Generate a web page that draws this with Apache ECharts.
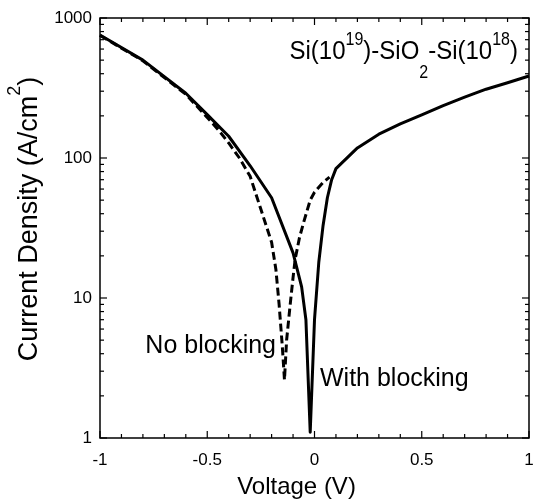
<!DOCTYPE html>
<html>
<head>
<meta charset="utf-8">
<script src="https://cdn.jsdelivr.net/npm/echarts@6/dist/echarts.min.js"></script>
<style>
html,body{margin:0;padding:0;background:#fff;}
#chart{width:538px;height:501px;}
</style>
</head>
<body>
<div id="chart"></div>
<script>
// Voltage (V) and current density (A/cm^2)
const withBlockingV = [-1, -0.8, -0.6, -0.5, -0.4, -0.3, -0.2, -0.1, -0.06, -0.04, -0.02, 0, 0.02, 0.04, 0.06, 0.08, 0.1, 0.2, 0.3, 0.4, 0.5, 0.6, 0.7, 0.8, 0.9, 1.0];
const withBlockingJ = [756, 500, 290, 204, 143, 88, 52, 21, 12, 7, 1.1, 7, 18, 33, 52, 70, 84, 118, 148, 175, 203, 237, 272, 310, 345, 385];

const noBlockingV = [-1, -0.8, -0.6, -0.5, -0.45, -0.4, -0.35, -0.3, -0.25, -0.2, -0.18, -0.165, -0.15, -0.14, -0.13, -0.115, -0.1, -0.09, -0.07, -0.05, -0.02, 0, 0.04, 0.07];
const noBlockingJ = [750, 495, 285, 195, 160, 128, 100, 74, 43, 25, 16, 9, 4.5, 2.6, 5, 8.5, 14, 19, 27, 35, 50, 57, 67, 73];

const xTicks = [-1, -0.5, 0, 0.5, 1];
const xMinorTicks = [-0.9, -0.8, -0.7, -0.6, -0.4, -0.3, -0.2, -0.1, 0.1, 0.2, 0.3, 0.4, 0.6, 0.7, 0.8, 0.9];
const yTicks = [1, 10, 100, 1000];
const yMinorTicks = [2,3,4,5,6,7,8,9,20,30,40,50,60,70,80,90,200,300,400,500,600,700,800,900];

const FONT = "Liberation Sans";

const pairs = (xs, ys) => xs.map((x, i) => [x, ys[i]]);

const chart = echarts.init(document.getElementById('chart'), null, {renderer: 'canvas'});

const option = {
  backgroundColor: '#fff',
  animation: false,
  textStyle: {fontFamily: FONT},
  grid: {left: 100, right: 9, top: 18, bottom: 63, containLabel: false, outerBoundsMode: 'none'},
  xAxis: {
    type: 'value', min: xTicks[0], max: xTicks[xTicks.length - 1], interval: 0.5,
    position: 'bottom',
    axisLine: {show: false, onZero: false},
    axisTick: {show: false},
    splitLine: {show: false},
    axisLabel: {show: true, color: '#000', fontSize: 17, margin: 14, fontFamily: FONT},
    name: 'Voltage (V)', nameLocation: 'middle', nameGap: 37,
    nameTextStyle: {color: '#000', fontSize: 24, fontFamily: FONT, padding: [0, 36, 0, 0]}
  },
  yAxis: {
    type: 'log', logBase: 10, min: yTicks[0], max: yTicks[yTicks.length - 1],
    position: 'left',
    axisLine: {show: false, onZero: false},
    axisTick: {show: false},
    splitLine: {show: false},
    axisLabel: {show: true, color: '#000', fontSize: 17, margin: 8, fontFamily: FONT, formatter: v => String(v)},
    name: '{a|Current Density (A/cm}{s|2}{a|)}', nameLocation: 'middle', nameGap: 56,
    nameTextStyle: {
      color: '#000', fontFamily: FONT, padding: [0, 0, 0, 18],
      rich: {
        a: {fontSize: 27, lineHeight: 27, padding: [10, 0, 0, 0], verticalAlign: 'top', color: '#000', fontFamily: FONT},
        s: {fontSize: 18, lineHeight: 18, verticalAlign: 'top', color: '#000', fontFamily: FONT}
      }
    }
  },
  series: [
    {
      name: 'With blocking', type: 'line',
      data: pairs(withBlockingV, withBlockingJ),
      showSymbol: false, symbol: 'none', smooth: false,
      lineStyle: {color: '#000', width: 3, type: 'solid', join: 'round'}, z: 3
    },
    {
      name: 'No blocking', type: 'line',
      data: pairs(noBlockingV, noBlockingJ),
      showSymbol: false, symbol: 'none', smooth: false,
      lineStyle: {color: '#000', width: 3, type: [8, 4], join: 'round'}, z: 2
    }
  ]
};

chart.setOption(option);

// Frame and inward ticks, positioned through the chart's own axis scales
const toPx = v => chart.convertToPixel({xAxisIndex: 0}, v);
const toPy = v => chart.convertToPixel({yAxisIndex: 0}, v);
const plotLeft = toPx(xTicks[0]);
const plotRight = toPx(xTicks[xTicks.length - 1]);
const plotTop = toPy(yTicks[yTicks.length - 1]);
const plotBottom = toPy(yTicks[0]);

const tickStyle = {stroke: '#000', lineWidth: 1.2};
const els = [];
els.push({type: 'rect', silent: true, z: 10,
  shape: {x: plotLeft, y: plotTop, width: plotRight - plotLeft, height: plotBottom - plotTop},
  style: {fill: null, stroke: '#000', lineWidth: 1.5}});

const addX = (vals, len) => vals.forEach(v => {
  const X = toPx(v);
  els.push({type: 'line', silent: true, z: 10, shape: {x1: X, y1: plotBottom, x2: X, y2: plotBottom - len}, style: tickStyle});
  els.push({type: 'line', silent: true, z: 10, shape: {x1: X, y1: plotTop, x2: X, y2: plotTop + len}, style: tickStyle});
});
const addY = (vals, len) => vals.forEach(v => {
  const Y = toPy(v);
  els.push({type: 'line', silent: true, z: 10, shape: {x1: plotLeft, y1: Y, x2: plotLeft + len, y2: Y}, style: tickStyle});
  els.push({type: 'line', silent: true, z: 10, shape: {x1: plotRight, y1: Y, x2: plotRight - len, y2: Y}, style: tickStyle});
});
addX(xTicks, 7);
addX(xMinorTicks, 4);
addY(yTicks, 7);
addY(yMinorTicks, 4);

// Annotations
els.push({
  type: 'text', x: 518, y: 31.5, scaleY: 1.1, z: 10,
  style: {
    text: '{a|Si(10}{p|19}{a|)-SiO}{b|2}{a|-Si(10}{p|18}{a|)}',
    align: 'right', verticalAlign: 'top', fill: '#000',
    rich: {
      a: {fontSize: 24, lineHeight: 24, padding: [6.7, 0, 0, 0], verticalAlign: 'top', fill: '#000', fontFamily: FONT},
      p: {fontSize: 16, lineHeight: 12, verticalAlign: 'top', fill: '#000', fontFamily: FONT},
      b: {fontSize: 16, lineHeight: 16, padding: [30, 0, 0, 0], verticalAlign: 'top', fill: '#000', fontFamily: FONT}
    }
  }
});
els.push({
  type: 'text', x: 276, y: 346, z: 10,
  style: {text: 'No blocking', align: 'right', verticalAlign: 'middle', fill: '#000', fontSize: 25, fontFamily: FONT}
});
els.push({
  type: 'text', x: 320, y: 379, z: 10,
  style: {text: 'With blocking', align: 'left', verticalAlign: 'middle', fill: '#000', fontSize: 25, fontFamily: FONT}
});

chart.setOption({graphic: els});
</script>
</body>
</html>
